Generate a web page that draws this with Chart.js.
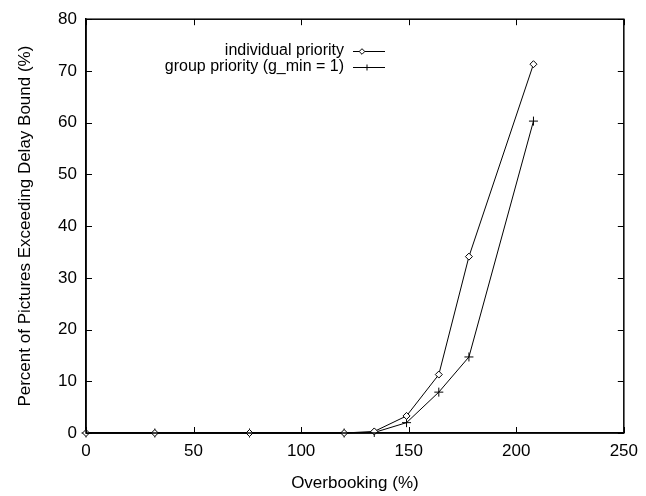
<!DOCTYPE html>
<html>
<head>
<meta charset="utf-8">
<script src="https://cdn.jsdelivr.net/npm/chart.js@4.4.1/dist/chart.umd.min.js"></script>
<style>
  html, body { margin: 0; padding: 0; background: #fff; }
  #wrap { width: 646px; height: 496px; }
</style>
</head>
<body>
<div id="wrap"><canvas id="myChart"></canvas></div>
<script>
const overbooking = [0, 32, 76, 120, 134, 149, 164, 178, 208];
const individualPriority = [0, 0, 0, 0, 0.3, 3.3, 11.3, 34.1, 71.3];
const groupPriority = [0, 0, 0, 0, 0.1, 2.0, 7.9, 14.7, 60.3];
const xTicks = [0, 50, 100, 150, 200, 250];
const yTicks = [0, 10, 20, 30, 40, 50, 60, 70, 80];

const FONT = "'Liberation Sans', Arial, Helvetica, sans-serif";
const INK = '#000';

const toPoints = (ys) => ys.map((y, i) => ({ x: overbooking[i], y: y }));

// gnuplot-style frame: full box plus inward tick marks on all four sides
const frameTicks = {
    id: 'frameTicks',
    afterDatasetsDraw(chart) {
        const { ctx, chartArea: a, scales: { x, y } } = chart;
        const len = 6;
        ctx.save();
        ctx.strokeStyle = INK;
        ctx.lineWidth = 1.5;
        ctx.strokeRect(a.left, a.top, a.right - a.left, a.bottom - a.top);
        ctx.lineWidth = 1;
        ctx.beginPath();
        xTicks.forEach(v => {
            const px = Math.round(x.getPixelForValue(v)) + 0.5;
            ctx.moveTo(px, a.bottom); ctx.lineTo(px, a.bottom - len);
            ctx.moveTo(px, a.top); ctx.lineTo(px, a.top + len);
        });
        yTicks.forEach(v => {
            const py = Math.round(y.getPixelForValue(v)) + 0.5;
            ctx.moveTo(a.left, py); ctx.lineTo(a.left + len, py);
            ctx.moveTo(a.right, py); ctx.lineTo(a.right - len, py);
        });
        ctx.stroke();
        ctx.restore();
    }
};

function drawMarker(ctx, style, cx, cy) {
    ctx.save();
    ctx.beginPath();
    if (style === 'rectRot') {
        const r = 2.8;
        ctx.moveTo(cx, cy - r); ctx.lineTo(cx + r, cy);
        ctx.lineTo(cx, cy + r); ctx.lineTo(cx - r, cy);
        ctx.closePath();
        ctx.fillStyle = '#fff';
        ctx.fill();
    } else {
        const r = 3;
        ctx.moveTo(cx - r, cy); ctx.lineTo(cx + r, cy);
        ctx.moveTo(cx, cy - r); ctx.lineTo(cx, cy + r);
    }
    ctx.stroke();
    ctx.restore();
}

// key in the upper part of the plot: right-aligned text, sample line on the right
const keyBox = {
    id: 'keyBox',
    afterDraw(chart) {
        const { ctx } = chart;
        const textRight = 344, lineFrom = 353, lineTo = 385;
        const rows = [51, 67];
        const markAt = [362, 367];
        ctx.save();
        ctx.font = '16px ' + FONT;
        ctx.strokeStyle = INK;
        ctx.lineWidth = 1;
        ctx.textAlign = 'right';
        ctx.textBaseline = 'middle';
        chart.data.datasets.forEach((ds, i) => {
            const yy = rows[i];
            ctx.fillStyle = INK;
            ctx.fillText(ds.label, textRight, yy);
            ctx.beginPath();
            ctx.moveTo(lineFrom, yy + 0.5);
            ctx.lineTo(lineTo, yy + 0.5);
            ctx.stroke();
            drawMarker(ctx, ds.pointStyle, markAt[i], yy + 0.5);
        });
        ctx.restore();
    }
};

const ctx = document.getElementById('myChart').getContext('2d');

const myChart = new Chart(ctx, {
    type: 'line',
    data: {
        datasets: [
            {
                label: 'individual priority',
                data: toPoints(individualPriority),
                borderColor: INK,
                borderWidth: 1,
                pointStyle: 'rectRot',
                pointRadius: 3.5,
                pointBorderColor: INK,
                pointBackgroundColor: '#fff',
                pointBorderWidth: 1,
                clip: false
            },
            {
                label: 'group priority (g_min = 1)',
                data: toPoints(groupPriority),
                borderColor: INK,
                borderWidth: 1,
                pointStyle: 'cross',
                pointRadius: 4.5,
                pointBorderColor: INK,
                pointBorderWidth: 1,
                clip: false
            }
        ]
    },
    options: {
        responsive: true,
        maintainAspectRatio: false,
        animation: false,
        layout: { padding: { left: 0, right: 20, top: 10, bottom: 0 } },
        plugins: {
            legend: { display: false },
            tooltip: { enabled: false }
        },
        scales: {
            x: {
                type: 'linear',
                min: 0,
                max: 250,
                afterBuildTicks: (s) => { s.ticks = xTicks.map(v => ({ value: v })); },
                afterFit: (s) => { s.height = 63; },
                grid: { display: false, drawTicks: false },
                border: { display: true, color: INK, width: 1.5 },
                ticks: { color: INK, padding: 8, font: { family: FONT, size: 17 }, maxRotation: 0 },
                title: {
                    display: true,
                    text: 'Overbooking (%)',
                    color: INK,
                    font: { family: FONT, size: 17 },
                    padding: { top: 0, bottom: 2 }
                }
            },
            y: {
                type: 'linear',
                min: 0,
                max: 80,
                afterBuildTicks: (s) => { s.ticks = yTicks.map(v => ({ value: v })); },
                afterFit: (s) => { s.width = 86; },
                grid: { display: false, drawTicks: false },
                border: { display: true, color: INK, width: 1.5 },
                ticks: { color: INK, padding: 9, font: { family: FONT, size: 17 } },
                title: {
                    display: true,
                    text: 'Percent of Pictures Exceeding Delay Bound (%)',
                    color: INK,
                    font: { family: FONT, size: 17 },
                    padding: { top: 15, bottom: 0 }
                }
            }
        }
    },
    plugins: [frameTicks, keyBox]
});
</script>
</body>
</html>
